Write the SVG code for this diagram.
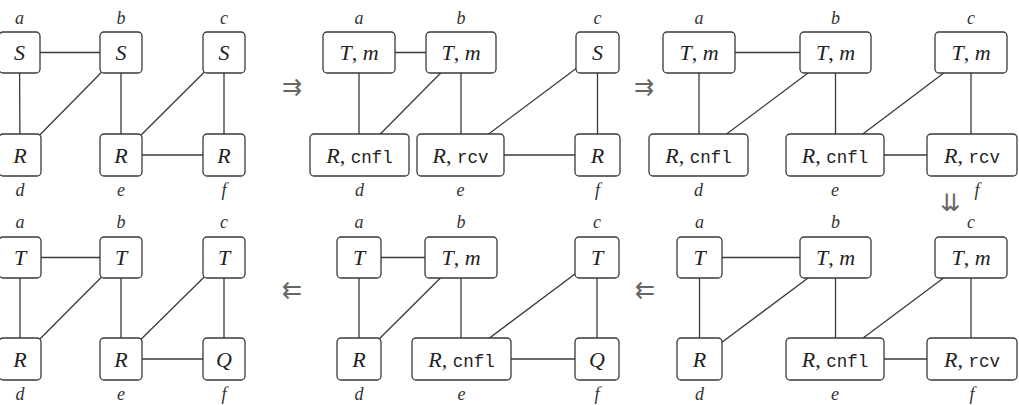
<svg xmlns="http://www.w3.org/2000/svg" width="1019" height="405" viewBox="0 0 1019 405">
<style>
.bg{fill:#fff}
.box{fill:#fff;stroke:#3a3a3a;stroke-width:1.3}
.e{stroke:#3a3a3a;stroke-width:1.3;fill:none}
.t{font-family:'Liberation Serif','DejaVu Serif',serif;font-size:22px;text-anchor:middle;fill:#222}
.i{font-style:italic}
.tt{font-family:'Liberation Mono','DejaVu Sans Mono',monospace;font-size:17.5px}
.lbl{font-family:'Liberation Serif','DejaVu Serif',serif;font-style:italic;font-size:18px;text-anchor:middle;fill:#333}
.ar{font-family:'DejaVu Sans',sans-serif;font-size:24px;text-anchor:middle;fill:#666}
</style>
<rect class="bg" x="0" y="0" width="1019" height="405"/>
<g id="connectors">
<line class="e" x1="19.5" y1="52.5" x2="121" y2="52.5"/>
<line class="e" x1="19.5" y1="52.5" x2="20" y2="155"/>
<line class="e" x1="121" y1="52.5" x2="20" y2="155"/>
<line class="e" x1="121" y1="52.5" x2="121" y2="155"/>
<line class="e" x1="224" y1="52.5" x2="121" y2="155"/>
<line class="e" x1="224" y1="52.5" x2="224" y2="155"/>
<line class="e" x1="121" y1="155" x2="224" y2="155"/>
<line class="e" x1="359" y1="52.5" x2="461" y2="52.5"/>
<line class="e" x1="359" y1="52.5" x2="359" y2="155"/>
<line class="e" x1="461" y1="52.5" x2="359.5" y2="155"/>
<line class="e" x1="461" y1="52.5" x2="461" y2="155"/>
<line class="e" x1="597.5" y1="52.5" x2="460.5" y2="155"/>
<line class="e" x1="597.5" y1="52.5" x2="597.5" y2="155"/>
<line class="e" x1="460.5" y1="155" x2="597.5" y2="155"/>
<line class="e" x1="699" y1="52.5" x2="835.5" y2="52.5"/>
<line class="e" x1="699" y1="52.5" x2="699" y2="155"/>
<line class="e" x1="835.5" y1="52.5" x2="698.5" y2="155"/>
<line class="e" x1="835.5" y1="52.5" x2="835.5" y2="155"/>
<line class="e" x1="971" y1="52.5" x2="835" y2="155"/>
<line class="e" x1="971" y1="52.5" x2="971" y2="155"/>
<line class="e" x1="835" y1="155" x2="972" y2="155"/>
<line class="e" x1="19.5" y1="257.5" x2="121" y2="257.5"/>
<line class="e" x1="20" y1="257.5" x2="20" y2="359"/>
<line class="e" x1="121" y1="257.5" x2="20" y2="359"/>
<line class="e" x1="121" y1="257.5" x2="121" y2="359"/>
<line class="e" x1="224" y1="257.5" x2="121" y2="359"/>
<line class="e" x1="224" y1="257.5" x2="224" y2="359"/>
<line class="e" x1="121" y1="359" x2="224" y2="359"/>
<line class="e" x1="359" y1="257.5" x2="461" y2="257.5"/>
<line class="e" x1="359" y1="257.5" x2="359" y2="359"/>
<line class="e" x1="461" y1="257.5" x2="359" y2="359"/>
<line class="e" x1="461" y1="257.5" x2="461" y2="359"/>
<line class="e" x1="597" y1="257.5" x2="461.5" y2="359"/>
<line class="e" x1="597" y1="257.5" x2="597" y2="359"/>
<line class="e" x1="461.5" y1="359" x2="597" y2="359"/>
<line class="e" x1="699.5" y1="257.5" x2="835.5" y2="257.5"/>
<line class="e" x1="699.5" y1="257.5" x2="699.5" y2="359"/>
<line class="e" x1="835.5" y1="257.5" x2="699.5" y2="359"/>
<line class="e" x1="835.5" y1="257.5" x2="835.5" y2="359"/>
<line class="e" x1="971" y1="257.5" x2="835" y2="359"/>
<line class="e" x1="971" y1="257.5" x2="971" y2="359"/>
<line class="e" x1="835" y1="359" x2="972" y2="359"/>
</g>
<g id="p1a"><rect class="box" x="-1" y="32" width="41" height="41" rx="4"/><text class="t i" x="19.5" y="60">S</text><text class="lbl" x="19.5" y="24">a</text></g>
<g id="p1b"><rect class="box" x="100" y="32" width="42" height="41" rx="4"/><text class="t i" x="121" y="60">S</text><text class="lbl" x="121" y="24">b</text></g>
<g id="p1c"><rect class="box" x="203" y="32" width="42" height="41" rx="4"/><text class="t i" x="224" y="60">S</text><text class="lbl" x="224" y="24">c</text></g>
<g id="p1d"><rect class="box" x="-1" y="134" width="42" height="42" rx="4"/><text class="t i" x="20" y="162.5">R</text><text class="lbl" x="20" y="196">d</text></g>
<g id="p1e"><rect class="box" x="100" y="134" width="42" height="42" rx="4"/><text class="t i" x="121" y="162.5">R</text><text class="lbl" x="121" y="196">e</text></g>
<g id="p1f"><rect class="box" x="203" y="134" width="42" height="42" rx="4"/><text class="t i" x="224" y="162.5">R</text><text class="lbl" x="224" y="196">f</text></g>
<g id="p2a"><rect class="box" x="323" y="32" width="72" height="41" rx="4"/><text class="t" x="359" y="60"><tspan class="i">T</tspan>, <tspan class="i">m</tspan></text><text class="lbl" x="359" y="24">a</text></g>
<g id="p2b"><rect class="box" x="426" y="32" width="70" height="41" rx="4"/><text class="t" x="461" y="60"><tspan class="i">T</tspan>, <tspan class="i">m</tspan></text><text class="lbl" x="461" y="24">b</text></g>
<g id="p2c"><rect class="box" x="576" y="32" width="43" height="41" rx="4"/><text class="t i" x="597.5" y="60">S</text><text class="lbl" x="597.5" y="24">c</text></g>
<g id="p2d"><rect class="box" x="310" y="134" width="99" height="42" rx="4"/><text class="t" x="359.5" y="162.5"><tspan class="i">R</tspan>, <tspan class="tt">cnfl</tspan></text><text class="lbl" x="359.5" y="196">d</text></g>
<g id="p2e"><rect class="box" x="417" y="134" width="87" height="42" rx="4"/><text class="t" x="460.5" y="162.5"><tspan class="i">R</tspan>, <tspan class="tt">rcv</tspan></text><text class="lbl" x="460.5" y="196">e</text></g>
<g id="p2f"><rect class="box" x="575" y="134" width="45" height="42" rx="4"/><text class="t i" x="597.5" y="162.5">R</text><text class="lbl" x="597.5" y="196">f</text></g>
<g id="p3a"><rect class="box" x="663" y="32" width="72" height="41" rx="4"/><text class="t" x="699" y="60"><tspan class="i">T</tspan>, <tspan class="i">m</tspan></text><text class="lbl" x="699" y="24">a</text></g>
<g id="p3b"><rect class="box" x="800" y="32" width="71" height="41" rx="4"/><text class="t" x="835.5" y="60"><tspan class="i">T</tspan>, <tspan class="i">m</tspan></text><text class="lbl" x="835.5" y="24">b</text></g>
<g id="p3c"><rect class="box" x="935" y="32" width="72" height="41" rx="4"/><text class="t" x="971" y="60"><tspan class="i">T</tspan>, <tspan class="i">m</tspan></text><text class="lbl" x="971" y="24">c</text></g>
<g id="p3d"><rect class="box" x="649" y="134" width="99" height="42" rx="4"/><text class="t" x="698.5" y="162.5"><tspan class="i">R</tspan>, <tspan class="tt">cnfl</tspan></text><text class="lbl" x="698.5" y="196">d</text></g>
<g id="p3e"><rect class="box" x="786" y="134" width="98" height="42" rx="4"/><text class="t" x="835" y="162.5"><tspan class="i">R</tspan>, <tspan class="tt">cnfl</tspan></text><text class="lbl" x="835" y="196">e</text></g>
<g id="p3f"><rect class="box" x="927" y="134" width="90" height="42" rx="4"/><text class="t" x="972" y="162.5"><tspan class="i">R</tspan>, <tspan class="tt">rcv</tspan></text><text class="lbl" x="977" y="196">f</text></g>
<g id="p4a"><rect class="box" x="-1" y="237" width="42" height="41" rx="4"/><text class="t i" x="20" y="265">T</text><text class="lbl" x="20" y="228">a</text></g>
<g id="p4b"><rect class="box" x="100" y="237" width="42" height="41" rx="4"/><text class="t i" x="121" y="265">T</text><text class="lbl" x="121" y="228">b</text></g>
<g id="p4c"><rect class="box" x="203" y="237" width="42" height="41" rx="4"/><text class="t i" x="224" y="265">T</text><text class="lbl" x="224" y="228">c</text></g>
<g id="p4d"><rect class="box" x="-1" y="338" width="42" height="42" rx="4"/><text class="t i" x="20" y="366.5">R</text><text class="lbl" x="20" y="400">d</text></g>
<g id="p4e"><rect class="box" x="100" y="338" width="42" height="42" rx="4"/><text class="t i" x="121" y="366.5">R</text><text class="lbl" x="121" y="400">e</text></g>
<g id="p4f"><rect class="box" x="203" y="338" width="42" height="42" rx="4"/><text class="t i" x="224" y="366.5">Q</text><text class="lbl" x="224" y="400">f</text></g>
<g id="p5a"><rect class="box" x="337" y="237" width="44" height="41" rx="4"/><text class="t i" x="359" y="265">T</text><text class="lbl" x="359" y="228">a</text></g>
<g id="p5b"><rect class="box" x="425" y="237" width="72" height="41" rx="4"/><text class="t" x="461" y="265"><tspan class="i">T</tspan>, <tspan class="i">m</tspan></text><text class="lbl" x="461" y="228">b</text></g>
<g id="p5c"><rect class="box" x="575" y="237" width="44" height="41" rx="4"/><text class="t i" x="597" y="265">T</text><text class="lbl" x="597" y="228">c</text></g>
<g id="p5d"><rect class="box" x="337" y="338" width="44" height="42" rx="4"/><text class="t i" x="359" y="366.5">R</text><text class="lbl" x="359" y="400">d</text></g>
<g id="p5e"><rect class="box" x="412" y="338" width="99" height="42" rx="4"/><text class="t" x="461.5" y="366.5"><tspan class="i">R</tspan>, <tspan class="tt">cnfl</tspan></text><text class="lbl" x="461.5" y="400">e</text></g>
<g id="p5f"><rect class="box" x="575" y="338" width="44" height="42" rx="4"/><text class="t i" x="597" y="366.5">Q</text><text class="lbl" x="597" y="400">f</text></g>
<g id="p6a"><rect class="box" x="677" y="237" width="45" height="41" rx="4"/><text class="t i" x="699.5" y="265">T</text><text class="lbl" x="699.5" y="228">a</text></g>
<g id="p6b"><rect class="box" x="800" y="237" width="71" height="41" rx="4"/><text class="t" x="835.5" y="265"><tspan class="i">T</tspan>, <tspan class="i">m</tspan></text><text class="lbl" x="835.5" y="228">b</text></g>
<g id="p6c"><rect class="box" x="935" y="237" width="72" height="41" rx="4"/><text class="t" x="971" y="265"><tspan class="i">T</tspan>, <tspan class="i">m</tspan></text><text class="lbl" x="971" y="228">c</text></g>
<g id="p6d"><rect class="box" x="677" y="338" width="45" height="42" rx="4"/><text class="t i" x="699.5" y="366.5">R</text><text class="lbl" x="699.5" y="400">d</text></g>
<g id="p6e"><rect class="box" x="786" y="338" width="98" height="42" rx="4"/><text class="t" x="835" y="366.5"><tspan class="i">R</tspan>, <tspan class="tt">cnfl</tspan></text><text class="lbl" x="835" y="400">e</text></g>
<g id="p6f"><rect class="box" x="927" y="338" width="90" height="42" rx="4"/><text class="t" x="972" y="366.5"><tspan class="i">R</tspan>, <tspan class="tt">rcv</tspan></text><text class="lbl" x="972" y="400">f</text></g>
<g id="arrows">
<text class="ar" x="292" y="95">⇉</text>
<text class="ar" x="644" y="95">⇉</text>
<text class="ar" x="950" y="211">⇊</text>
<text class="ar" x="292" y="298">⇇</text>
<text class="ar" x="645" y="298">⇇</text>
</g>
</svg>
